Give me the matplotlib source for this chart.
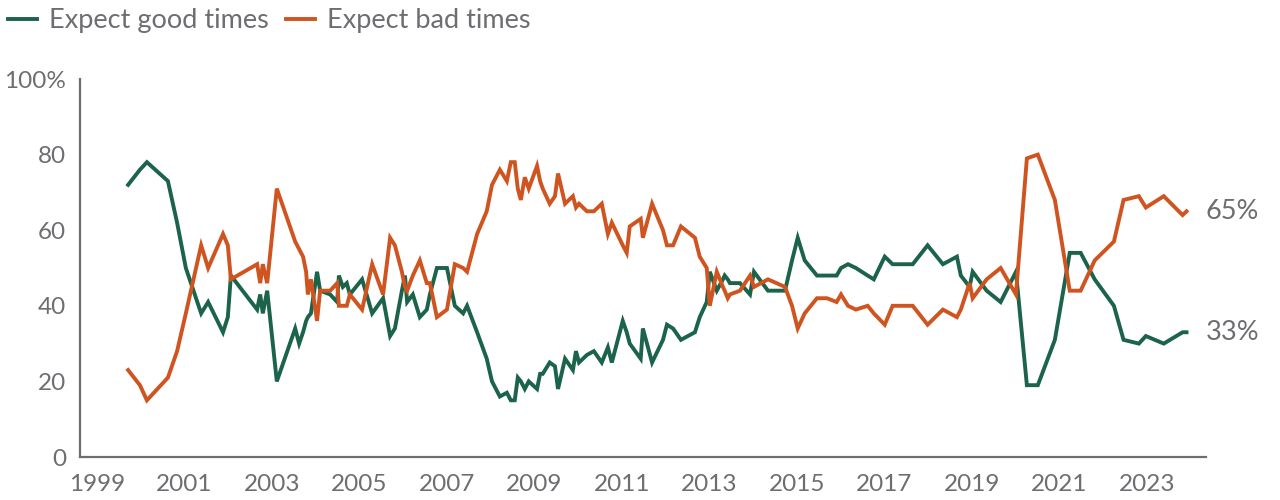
import matplotlib.pyplot as plt

# survey dates (fractional years) and shares of respondents, in percent
dates = [1999.71, 1999.98, 2000.14, 2000.62, 2000.83, 2001.03, 2001.38, 2001.54, 2001.88, 2001.99,
         2002.06, 2002.66, 2002.73, 2002.79, 2002.89, 2003.11, 2003.53, 2003.62, 2003.71, 2003.78,
         2003.82, 2003.89, 2004.03, 2004.10, 2004.33, 2004.49, 2004.53, 2004.62, 2004.71, 2004.78,
         2005.06, 2005.29, 2005.54, 2005.70, 2005.81, 2005.97, 2006.04, 2006.09, 2006.22, 2006.38,
         2006.54, 2006.61, 2006.77, 2007.00, 2007.18, 2007.37, 2007.46, 2007.69, 2007.91, 2008.03,
         2008.21, 2008.37, 2008.46, 2008.55, 2008.62, 2008.69, 2008.78, 2008.87, 2009.06, 2009.13,
         2009.19, 2009.35, 2009.47, 2009.54, 2009.70, 2009.88, 2009.95, 2010.02, 2010.20, 2010.36,
         2010.54, 2010.68, 2010.77, 2011.02, 2011.11, 2011.18, 2011.43, 2011.48, 2011.69, 2011.94,
         2012.03, 2012.17, 2012.35, 2012.67, 2012.78, 2012.94, 2013.01, 2013.17, 2013.31, 2013.35,
         2013.42, 2013.47, 2013.70, 2013.93, 2014.02, 2014.34, 2014.73, 2014.89, 2015.02, 2015.18,
         2015.46, 2015.69, 2015.91, 2016.01, 2016.17, 2016.35, 2016.62, 2016.76, 2017.01, 2017.19,
         2017.65, 2017.99, 2018.34, 2018.66, 2018.75, 2018.95, 2019.02, 2019.34, 2019.66, 2020.01,
         2020.26, 2020.51, 2020.90, 2021.24, 2021.49, 2021.81, 2022.25, 2022.47, 2022.82, 2022.98,
         2023.39, 2023.82, 2023.91]

good = [72, 76, 78, 73, 62, 50, 38, 41, 33, 37,
        48, 39, 43, 38, 44, 20, 34, 30, 33, 36,
        37, 38, 49, 44, 43, 41, 48, 45, 46, 43,
        47, 38, 42, 32, 34, 44, 48, 41, 43, 37,
        39, 43, 50, 50, 40, 38, 40, 33, 26, 20,
        16, 17, 15, 15, 21, 20, 18, 20, 18, 22,
        22, 25, 24, 18, 26, 23, 28, 25, 27, 28,
        25, 29, 25, 36, 33, 30, 26, 34, 25, 31,
        35, 34, 31, 33, 37, 41, 49, 44, 47, 48,
        47, 46, 46, 43, 49, 44, 44, 52, 58, 52,
        48, 48, 48, 50, 51, 50, 48, 47, 53, 51,
        51, 56, 51, 53, 48, 45, 49, 44, 41, 49,
        19, 19, 31, 54, 54, 47, 40, 31, 30, 32,
        30, 33, 33]

bad = [23, 19, 15, 21, 28, 38, 56, 50, 59, 56,
       47, 51, 46, 51, 46, 71, 57, 55, 53, 49,
       43, 47, 36, 44, 44, 46, 40, 40, 40, 43,
       39, 51, 43, 58, 56, 49, 45, 44, 48, 52,
       46, 46, 37, 39, 51, 50, 49, 59, 65, 72,
       76, 73, 78, 78, 71, 68, 74, 71, 77, 73,
       71, 67, 69, 75, 67, 69, 66, 67, 65, 65,
       67, 59, 62, 56, 54, 61, 63, 58, 67, 60,
       56, 56, 61, 58, 53, 50, 40, 49, 45, 44,
       42, 43, 44, 48, 45, 47, 45, 40, 34, 38,
       42, 42, 41, 43, 40, 39, 40, 38, 35, 40,
       40, 35, 39, 37, 39, 46, 42, 47, 50, 43,
       79, 80, 68, 44, 44, 52, 57, 68, 69, 66,
       69, 64, 65]

year_ticks = [1999, 2001, 2003, 2005, 2007, 2009, 2011, 2013, 2015, 2017, 2019, 2021, 2023]
y_ticks = [0, 20, 40, 60, 80, 100]
y_labels = ['0', '20', '40', '60', '80', '100%']

green = '#1b6349'
orange = '#cf5420'
grey = '#6d6e71'

plt.rcParams['font.family'] = ['Lato', 'DejaVu Sans']

fig = plt.figure(figsize=(12.8, 5), dpi=100)
ax = fig.add_axes([0.0625, 0.086, 0.8795, 0.756])

ax.plot(dates, good, color=green, linewidth=2.8, label='Expect good times', solid_joinstyle='miter')
ax.plot(dates, bad, color=orange, linewidth=2.8, label='Expect bad times', solid_joinstyle='miter')

ax.set_xlim(1998.61, 2024.35)
ax.set_ylim(0, 100)
ax.set_xticks(year_ticks)
ax.set_xticklabels([str(y) for y in year_ticks])
ax.set_yticks(y_ticks)
ax.set_yticklabels(y_labels)
ax.tick_params(length=0, labelsize=17.5, labelcolor=grey)
ax.tick_params(axis='x', pad=12)
ax.tick_params(axis='y', pad=10)

for side in ['top', 'right']:
    ax.spines[side].set_visible(False)
for side in ['left', 'bottom']:
    ax.spines[side].set_color(grey)
    ax.spines[side].set_linewidth(1.6)

# end-of-line labels
ax.annotate(f'{bad[-1]}%', (dates[-1], bad[-1]), xytext=(14, 0), textcoords='offset points',
            va='center', ha='left', fontsize=19.5, color=grey, annotation_clip=False)
ax.annotate(f'{good[-1]}%', (dates[-1], good[-1]), xytext=(14, 0), textcoords='offset points',
            va='center', ha='left', fontsize=19.5, color=grey, annotation_clip=False)

fig.legend(loc='upper left', bbox_to_anchor=(0, 1.0), ncol=2, frameon=False,
           fontsize=19.5, labelcolor=grey, handlelength=1.05, handletextpad=0.45,
           columnspacing=0.65, borderpad=0.1, borderaxespad=0.2)

fig.savefig('out.png', dpi=100)
